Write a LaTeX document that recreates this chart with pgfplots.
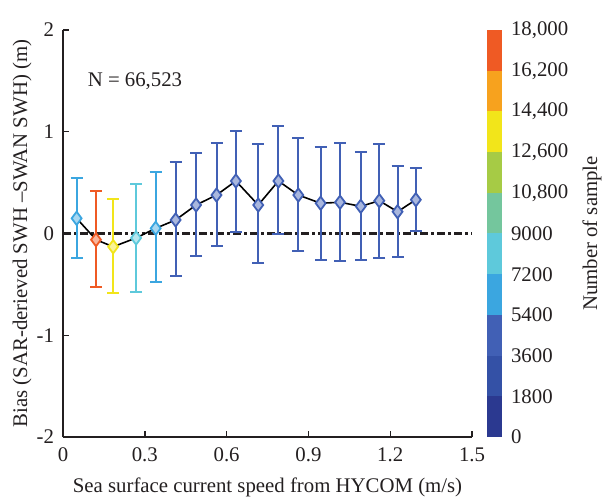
\documentclass[border=0pt]{standalone}
\usepackage{fontspec}
\setmainfont{Liberation Serif}
\usepackage{pgfplots}
\pgfplotsset{compat=1.18}

% colour bands of the sample-count scale (0 ... 18,000)
\definecolor{cA}{HTML}{2B3990}
\definecolor{cB}{HTML}{3451A6}
\definecolor{cC}{HTML}{4160B5}
\definecolor{cD}{HTML}{3BA6E0}
\definecolor{cE}{HTML}{5EC9DB}
\definecolor{cF}{HTML}{74C69D}
\definecolor{cG}{HTML}{A6CB45}
\definecolor{cH}{HTML}{F2E51A}
\definecolor{cI}{HTML}{F7A21E}
\definecolor{cJ}{HTML}{EF5A24}
\definecolor{txt}{HTML}{231F20}

\pgfplotsset{
  bars/.style={only marks, mark=none,
    error bars/.cd, y dir=both, y explicit,
    error bar style={color=#1, line width=1pt},
    error mark options={color=#1, rotate=90, mark size=3pt, line width=1pt}},
  dia/.style={only marks, mark=diamond*, mark size=3.3pt,
    mark options={draw=#1, fill=#1!45!white, line width=0.9pt}},
}

\begin{document}
\begin{tikzpicture}
\path[use as bounding box] (-31.5pt,-32.5pt) rectangle (273pt,218.5pt);

\begin{axis}[
  at={(0,0)}, anchor=south west,
  scale only axis, width=204.5pt, height=203.5pt,
  xmin=0, xmax=1.5, ymin=-2, ymax=2,
  axis lines*=left,
  axis line style={line width=0.7pt, txt},
  tick align=inside,
  major tick length=3pt,
  tick style={line width=0.7pt, txt},
  hide obscured x ticks=false,
  hide obscured y ticks=false,
  xtick={0,0.3,0.6,0.9,1.2,1.5},
  xticklabels={0,0.3,0.6,0.9,1.2,1.5},
  ytick={-2,-1,0,1,2},
  yticklabels={-2,-1,0,1,2},
  font=\fontsize{10.4}{12}\selectfont,
  every tick label/.append style={txt},
  xticklabel style={yshift=-2pt},
  yticklabel style={xshift=-1pt},
  xlabel={Sea surface current speed from HYCOM (m/s)},
  ylabel={Bias (SAR-derieved SWH --SWAN SWH) (m)},
  xlabel style={at={(axis description cs:0.5,0)}, anchor=center, yshift=-25pt, txt},
  ylabel style={at={(axis description cs:-0.1,0.5)}, anchor=center, txt},
  clip=false,
]
% zero reference line
\addplot[txt, line width=1.1pt, dash pattern=on 4pt off 1.5pt on 1.5pt off 1.5pt]
  coordinates {(0,0) (1.5,0)};

% error bars (mean +/- std), grouped by sample-count colour
\addplot[bars=cD] coordinates {
  (0.050,0.149) += (0,0.394) -= (0,0.393)
  (0.340,0.051) += (0,0.556) -= (0,0.531)
};
\addplot[bars=cJ] coordinates {(0.121,-0.061) += (0,0.482) -= (0,0.462)};
\addplot[bars=cH] coordinates {(0.184,-0.130) += (0,0.469) -= (0,0.458)};
\addplot[bars=cE] coordinates {(0.268,-0.044) += (0,0.530) -= (0,0.528)};
\addplot[bars=cC] coordinates {
  (0.413,0.133) += (0,0.567) -= (0,0.547)
  (0.488,0.280) += (0,0.508) -= (0,0.498)
  (0.563,0.378) += (0,0.511) -= (0,0.504)
  (0.634,0.516) += (0,0.491) -= (0,0.504)
  (0.716,0.280) += (0,0.597) -= (0,0.570)
  (0.790,0.516) += (0,0.538) -= (0,0.524)
  (0.863,0.378) += (0,0.561) -= (0,0.550)
  (0.945,0.297) += (0,0.556) -= (0,0.554)
  (1.016,0.307) += (0,0.579) -= (0,0.574)
  (1.092,0.267) += (0,0.531) -= (0,0.524)
  (1.160,0.322) += (0,0.558) -= (0,0.566)
  (1.227,0.214) += (0,0.452) -= (0,0.442)
  (1.294,0.332) += (0,0.312) -= (0,0.307)
};

% mean bias line
\addplot[black, line width=0.8pt] coordinates {
  (0.050,0.149) (0.121,-0.061) (0.184,-0.130) (0.268,-0.044) (0.340,0.051)
  (0.413,0.133) (0.488,0.280) (0.563,0.378) (0.634,0.516) (0.716,0.280)
  (0.790,0.516) (0.863,0.378) (0.945,0.297) (1.016,0.307) (1.092,0.267)
  (1.160,0.322) (1.227,0.214) (1.294,0.332)
};

% markers
\addplot[dia=cD] coordinates {(0.050,0.149) (0.340,0.051)};
\addplot[dia=cJ] coordinates {(0.121,-0.061)};
\addplot[dia=cH] coordinates {(0.184,-0.130)};
\addplot[dia=cE] coordinates {(0.268,-0.044)};
\addplot[dia=cC] coordinates {
  (0.413,0.133) (0.488,0.280) (0.563,0.378) (0.634,0.516) (0.716,0.280)
  (0.790,0.516) (0.863,0.378) (0.945,0.297) (1.016,0.307) (1.092,0.267)
  (1.160,0.322) (1.227,0.214) (1.294,0.332)
};

\node[anchor=west, txt] at (axis cs:0.065,1.5) {N = 66,523};
\end{axis}

% colour bar
\begin{axis}[
  at={(212pt,0)}, anchor=south west,
  scale only axis, width=7.5pt, height=203.5pt,
  xmin=0, xmax=1, ymin=0, ymax=18000,
  ybar stacked, bar width=7.5pt,
  hide x axis,
  axis line style={draw=none},
  major tick length=0pt,
  scaled y ticks=false,
  yticklabel pos=right,
  ytick={0,1800,3600,5400,7200,9000,10800,12600,14400,16200,18000},
  yticklabels={0,1800,3600,5400,7200,9000,{10,800},{12,600},{14,400},{16,200},{18,000}},
  yticklabel style={anchor=west, xshift=1pt, txt},
  font=\fontsize{10.4}{12}\selectfont,
  ylabel={Number of sample},
  ylabel style={at={(axis description cs:7,0.5)}, anchor=center, rotate=0, txt},
]
\addplot[fill=cA, draw=none] coordinates {(0.5,1800)};
\addplot[fill=cB, draw=none] coordinates {(0.5,1800)};
\addplot[fill=cC, draw=none] coordinates {(0.5,1800)};
\addplot[fill=cD, draw=none] coordinates {(0.5,1800)};
\addplot[fill=cE, draw=none] coordinates {(0.5,1800)};
\addplot[fill=cF, draw=none] coordinates {(0.5,1800)};
\addplot[fill=cG, draw=none] coordinates {(0.5,1800)};
\addplot[fill=cH, draw=none] coordinates {(0.5,1800)};
\addplot[fill=cI, draw=none] coordinates {(0.5,1800)};
\addplot[fill=cJ, draw=none] coordinates {(0.5,1800)};
\end{axis}
\end{tikzpicture}
\end{document}
